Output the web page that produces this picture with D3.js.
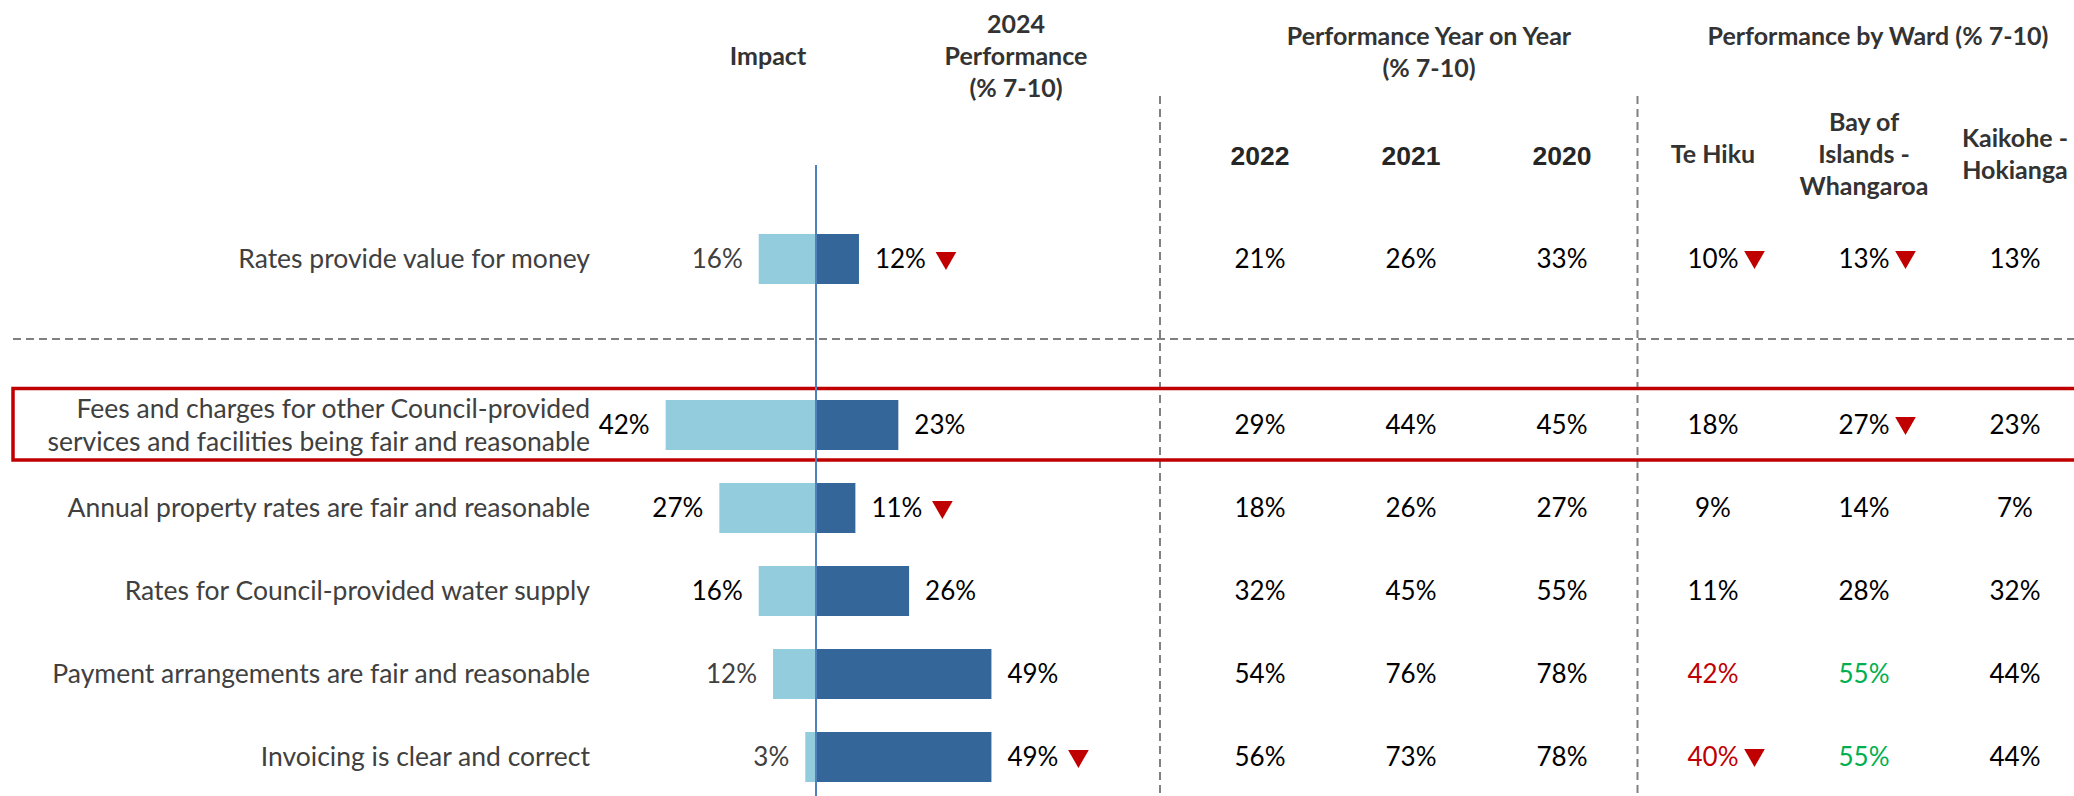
<!DOCTYPE html>
<html>
<head>
<meta charset="utf-8">
<script src="https://cdn.jsdelivr.net/npm/d3@7"></script>
<style>
    body { margin: 0; background: #fff; }
    svg { display: block; font-family: Lato, "Open Sans", sans-serif; }
</style>
</head>
<body>
<div id="chart"></div>
<script>
// rows, top to bottom
var categories = [
    "Rates provide value for money",
    "Fees and charges for other Council-provided services and facilities being fair and reasonable",
    "Annual property rates are fair and reasonable",
    "Rates for Council-provided water supply",
    "Payment arrangements are fair and reasonable",
    "Invoicing is clear and correct"
];
// label lines (row 2 wraps)
var categoryLines = [
    ["Rates provide value for money"],
    ["Fees and charges for other Council-provided", "services and facilities being fair and reasonable"],
    ["Annual property rates are fair and reasonable"],
    ["Rates for Council-provided water supply"],
    ["Payment arrangements are fair and reasonable"],
    ["Invoicing is clear and correct"]
];

var impact = [16, 42, 27, 16, 12, 3];
var perf2024 = [12, 23, 11, 26, 49, 49];
var perf2024Down = [true, false, true, false, false, true];

var yearLabels = ["2022", "2021", "2020"];
var perf2022 = [21, 29, 18, 32, 54, 56];
var perf2021 = [26, 44, 26, 45, 76, 73];
var perf2020 = [33, 45, 27, 55, 78, 78];

var wardLabels = ["Te Hiku", "Bay of Islands - Whangaroa", "Kaikohe - Hokianga"];
var wardHeaderLines = [["Te Hiku"], ["Bay of", "Islands -", "Whangaroa"], ["Kaikohe -", "Hokianga"]];
var teHiku = [10, 18, 9, 11, 42, 40];
var teHikuDown = [true, false, false, false, false, true];
var teHikuColor = ["n", "n", "n", "n", "low", "low"];
var bayOfIslands = [13, 27, 14, 28, 55, 55];
var bayOfIslandsDown = [true, true, false, false, false, false];
var bayOfIslandsColor = ["n", "n", "n", "n", "high", "high"];
var kaikohe = [13, 23, 7, 32, 44, 44];

var highlightRow = 1;

var width = 2074, height = 796;
var lightBlue = "#93CDDD", darkBlue = "#346699", red = "#C00000", green = "#00B050";
var textColor = { n: "#000", low: red, high: green };

var svg = d3.select('#chart').append('svg')
    .attr("width", width)
    .attr("height", height);

// diverging bar scale, zero at the blue axis line
var x = d3.scaleLinear().domain([-50, 50]).range([637, 995]);
// row positions, with an empty slot after the first row
var y = d3.scalePoint()
    .domain([categories[0], "gap"].concat(categories.slice(1)))
    .range([259, 757]);
// table columns
var cols = d3.scalePoint()
    .domain(yearLabels.concat(wardLabels))
    .range([1260, 2015]);

var tableCols = [
    { key: "2022", values: perf2022 },
    { key: "2021", values: perf2021 },
    { key: "2020", values: perf2020 },
    { key: wardLabels[0], values: teHiku, down: teHikuDown, color: teHikuColor },
    { key: wardLabels[1], values: bayOfIslands, down: bayOfIslandsDown, color: bayOfIslandsColor },
    { key: wardLabels[2], values: kaikohe }
];

var barH = 50;
var downTriangle = d3.symbol().type(d3.symbolTriangle).size(185);

// ---- grid lines ----
var grid = svg.append("g")
    .attr("stroke", "#808080")
    .attr("stroke-width", 2)
    .attr("stroke-dasharray", "8,5");
grid.append("line").attr("x1", 13).attr("x2", width).attr("y1", 339).attr("y2", 339);
[1160, (cols("2020") + cols(wardLabels[0])) / 2].forEach(function(xv) {
    grid.append("line").attr("x1", xv).attr("x2", xv).attr("y1", 96).attr("y2", height);
});

// ---- headers ----
var head = svg.append("g")
    .attr("fill", "#333")
    .attr("font-weight", "bold")
    .attr("font-size", 25)
    .attr("text-anchor", "middle");

head.append("text").attr("x", 768).attr("y", 65).text("Impact");
["2024", "Performance", "(% 7-10)"].forEach(function(t, i) {
    head.append("text").attr("x", 1016).attr("y", 33 + i * 32).text(t);
});
["Performance Year on Year", "(% 7-10)"].forEach(function(t, i) {
    head.append("text").attr("x", 1429).attr("y", 45 + i * 32).text(t);
});
head.append("text").attr("x", 1878).attr("y", 45).text("Performance by Ward (% 7-10)");

head.selectAll(".year")
    .data(yearLabels)
    .enter().append("text")
    .attr("class", "year")
    .attr("x", function(d) { return cols(d); })
    .attr("y", 165)
    .style("font-family", "'Liberation Sans', Arial, sans-serif")
    .attr("font-size", 26.5)
    .attr("fill", "#262626")
    .text(function(d) { return d; });

wardHeaderLines.forEach(function(lines, i) {
    var top = 163 - (lines.length - 1) * 16;
    lines.forEach(function(t, j) {
        head.append("text")
            .attr("x", cols(wardLabels[i]))
            .attr("y", top + j * 32)
            .text(t);
    });
});

// ---- highlight box ----
svg.append("rect")
    .attr("x", 13)
    .attr("y", y(categories[highlightRow]) - 36.5)
    .attr("width", width)
    .attr("height", 71.5)
    .attr("fill", "none")
    .attr("stroke", red)
    .attr("stroke-width", 3.5);

// ---- row labels ----
var labels = svg.append("g")
    .attr("fill", "#404040")
    .attr("font-size", 26.5)
    .attr("text-anchor", "end");

categoryLines.forEach(function(lines, i) {
    var cy = y(categories[i]);
    lines.forEach(function(t, j) {
        labels.append("text")
            .attr("x", 590)
            .attr("y", cy + 9 + (j - (lines.length - 1) / 2) * 33)
            .text(t);
    });
});

// ---- bars ----
var bars = svg.append("g");
bars.selectAll(".impact")
    .data(impact)
    .enter().append("rect")
    .attr("class", "impact")
    .attr("x", function(d) { return x(-d); })
    .attr("y", function(d, i) { return y(categories[i]) - barH / 2; })
    .attr("width", function(d) { return x(0) - x(-d); })
    .attr("height", barH)
    .attr("fill", lightBlue);

bars.selectAll(".perf")
    .data(perf2024)
    .enter().append("rect")
    .attr("class", "perf")
    .attr("x", x(0))
    .attr("y", function(d, i) { return y(categories[i]) - barH / 2; })
    .attr("width", function(d) { return x(d) - x(0); })
    .attr("height", barH)
    .attr("fill", darkBlue);

// axis line
svg.append("line")
    .attr("x1", x(0)).attr("x2", x(0))
    .attr("y1", 165).attr("y2", height)
    .attr("stroke", "#4F81BD")
    .attr("stroke-width", 2);

var values = svg.append("g").attr("font-size", 26);

values.selectAll(".impactLabel")
    .data(impact)
    .enter().append("text")
    .attr("class", "impactLabel")
    .attr("x", function(d) { return x(-d) - 16; })
    .attr("y", function(d, i) { return y(categories[i]) + 9; })
    .attr("text-anchor", "end")
    .attr("fill", function(d, i) { return (i == 0 || i >= 4) ? "#404040" : "#000"; })
    .text(function(d) { return d + "%"; });

perf2024.forEach(function(d, i) {
    var cy = y(categories[i]);
    var t = values.append("text")
        .attr("x", x(d) + 16)
        .attr("y", cy + 9)
        .attr("fill", "#000")
        .text(d + "%");
    if (perf2024Down[i]) {
        var end = x(d) + 16 + t.node().getComputedTextLength();
        values.append("path")
            .attr("d", downTriangle)
            .attr("transform", "translate(" + (end + 20) + "," + (cy - 1) + ") rotate(180)")
            .attr("fill", red);
    }
});

// ---- table values ----
tableCols.forEach(function(col) {
    col.values.forEach(function(v, i) {
        var cx = cols(col.key), cy = y(categories[i]);
        var t = values.append("text")
            .attr("x", cx)
            .attr("y", cy + 9)
            .attr("text-anchor", "middle")
            .attr("fill", col.color ? textColor[col.color[i]] : "#000")
            .text(v + "%");
        if (col.down && col.down[i]) {
            var end = cx + t.node().getComputedTextLength() / 2;
            values.append("path")
                .attr("d", downTriangle)
                .attr("transform", "translate(" + (end + 16) + "," + (cy - 2) + ") rotate(180)")
                .attr("fill", red);
        }
    });
});
</script>
</body>
</html>
